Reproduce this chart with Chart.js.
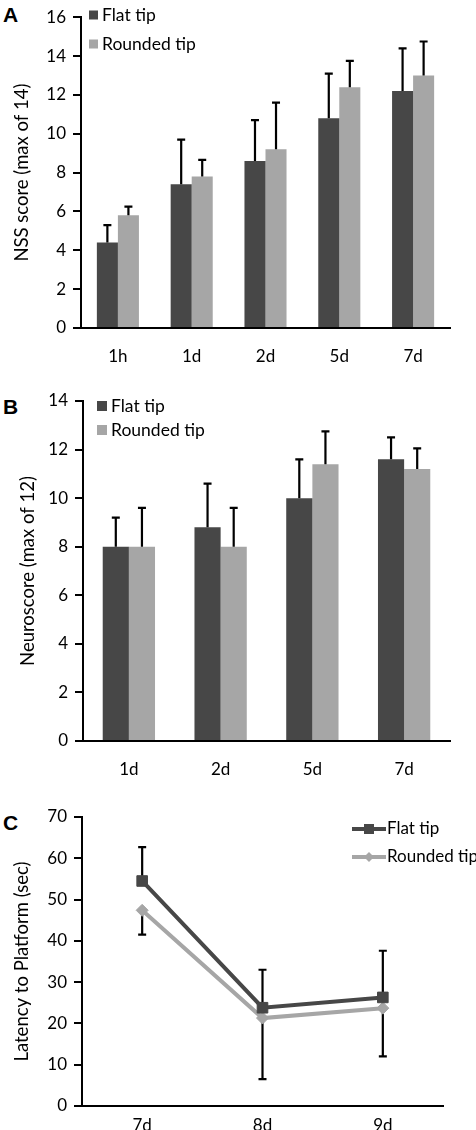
<!DOCTYPE html>
<html lang="en">
<head>
  <meta charset="UTF-8">
  <title>Flat vs rounded tip</title>
  <script src="https://cdn.jsdelivr.net/npm/chart.js"></script>
  <style>
    body { margin: 0; background: #fff; width: 476px; height: 1130px; position: relative; overflow: hidden; }
    canvas { position: absolute; left: 0; }
    .panel { position: absolute; left: 3px; font: bold 21px "Liberation Sans", Arial, sans-serif; color: #000; }
  </style>
</head>
<body>
  <div class="panel" style="top:3px">A</div>
  <div class="panel" style="top:395px">B</div>
  <div class="panel" style="top:811px">C</div>

  <canvas id="chartA" width="476" height="370" style="top:0"></canvas>
  <canvas id="chartB" width="476" height="415" style="top:370px"></canvas>
  <canvas id="chartC" width="476" height="352" style="top:780px"></canvas>

  <script>
    // Panel A - NSS score
    const catsA = ['1h', '1d', '2d', '5d', '7d'];
    const flatA = [4.4, 7.4, 8.6, 10.8, 12.2];
    const flatSdA = [0.9, 2.3, 2.1, 2.3, 2.2];
    const roundA = [5.8, 7.8, 9.2, 12.4, 13.0];
    const roundSdA = [0.45, 0.85, 2.4, 1.35, 1.75];
    const yMaxA = 16, yStepA = 2;

    // Panel B - Neuroscore
    const catsB = ['1d', '2d', '5d', '7d'];
    const flatB = [8.0, 8.8, 10.0, 11.6];
    const flatSdB = [1.2, 1.8, 1.6, 0.9];
    const roundB = [8.0, 8.0, 11.4, 11.2];
    const roundSdB = [1.6, 1.6, 1.35, 0.85];
    const yMaxB = 14, yStepB = 2;

    // Panel C - latency to platform
    const catsC = ['7d', '8d', '9d'];
    const flatC = [54.5, 23.8, 26.3];
    const flatSdC = [8.2, 9.2, 11.3];
    const roundC = [47.4, 21.3, 23.7];
    const roundSdC = [5.9, 14.8, 11.7];
    const yMaxC = 70, yStepC = 10;

    const seriesNames = ['Flat tip', 'Rounded tip'];
    const DARK = '#474747';
    const LIGHT = '#a6a6a6';
    const FONT = 'Lato, "Open Sans", sans-serif';

    // error bars: one-sided (up or down) with a cap
    const errorBars = {
      id: 'errorBars',
      beforeDatasetsDraw(chart, args, opts) { if (opts.behind) drawErrors(chart); },
      afterDatasetsDraw(chart, args, opts) { if (!opts.behind) drawErrors(chart); }
    };
    function drawErrors(chart) {
      const ctx = chart.ctx;
      const y = chart.scales.y;
      ctx.save();
      ctx.strokeStyle = '#000';
      ctx.lineWidth = 2.2;
      chart.data.datasets.forEach((ds, i) => {
        if (!ds.errors) return;
        chart.getDatasetMeta(i).data.forEach((el, j) => {
          const v = ds.data[j];
          const end = ds.errDir === 'down' ? v - ds.errors[j] : v + ds.errors[j];
          const y0 = y.getPixelForValue(v), y1 = y.getPixelForValue(end);
          ctx.beginPath();
          ctx.moveTo(el.x, y0);
          ctx.lineTo(el.x, y1);
          ctx.moveTo(el.x - 4, y1);
          ctx.lineTo(el.x + 4, y1);
          ctx.stroke();
        });
      });
      ctx.restore();
    }

    // hand drawn legend, placed relative to the canvas
    const boxLegend = {
      id: 'boxLegend',
      afterDraw(chart, args, o) {
        const ctx = chart.ctx;
        ctx.save();
        ctx.font = (o.size || 17.5) + 'px ' + FONT;
        ctx.textBaseline = 'middle';
        chart.data.datasets.forEach((ds, i) => {
          const cy = o.y + i * o.gap;
          ctx.fillStyle = ds.backgroundColor;
          if (o.line) {
            ctx.strokeStyle = ds.borderColor;
            ctx.lineWidth = 4;
            ctx.beginPath();
            ctx.moveTo(o.x, cy);
            ctx.lineTo(o.x + 34, cy);
            ctx.stroke();
            const mx = o.x + 17;
            ctx.beginPath();
            if (ds.pointStyle === 'rect') {
              ctx.rect(mx - 5, cy - 5, 10, 10);
            } else {
              ctx.moveTo(mx, cy - 5); ctx.lineTo(mx + 5, cy);
              ctx.lineTo(mx, cy + 5); ctx.lineTo(mx - 5, cy);
              ctx.closePath();
            }
            ctx.fill();
            ctx.fillStyle = '#000';
            ctx.fillText(ds.label, o.x + 35, cy);
          } else {
            ctx.fillRect(o.x, cy - o.box / 2, o.box, o.box);
            ctx.fillStyle = '#000';
            ctx.fillText(ds.label, o.x + o.box + 4, cy);
          }
        });
        ctx.restore();
      }
    };

    function scalesFor(yMax, yStep, yWidth, xHeight, xPad, titleText, titlePad) {
      return {
        x: {
          offset: true,
          grid: { display: false },
          border: { color: '#000', width: 2 },
          ticks: { color: '#000', font: { family: FONT, size: 17 }, padding: xPad },
          afterFit(s) { s.height = xHeight; }
        },
        y: {
          min: 0, max: yMax,
          grid: { drawOnChartArea: false, drawTicks: true, tickLength: 8, color: '#000', lineWidth: 2 },
          border: { color: '#000', width: 2 },
          ticks: { stepSize: yStep, color: '#000', font: { family: FONT, size: 17 }, padding: 7 },
          title: {
            display: true, text: titleText, color: '#000',
            font: { family: FONT, size: 18.5 }, padding: { top: titlePad, bottom: 0 }
          },
          afterFit(s) { s.width = yWidth; }
        }
      };
    }

    function barChart(id, cats, flat, flatSd, round, roundSd, yMax, yStep, geo) {
      return new Chart(document.getElementById(id), {
        type: 'bar',
        data: {
          labels: cats,
          datasets: [
            { label: seriesNames[0], data: flat, errors: flatSd, errDir: 'up', backgroundColor: DARK },
            { label: seriesNames[1], data: round, errors: roundSd, errDir: 'up', backgroundColor: LIGHT }
          ]
        },
        options: {
          responsive: false,
          animation: false,
          categoryPercentage: 0.57,
          barPercentage: 1.0,
          layout: { padding: geo.padding },
          plugins: {
            legend: { display: false },
            tooltip: { enabled: false },
            errorBars: { behind: false },
            boxLegend: geo.legend
          },
          scales: scalesFor(yMax, yStep, geo.yWidth, geo.xHeight, geo.xPad, geo.title, geo.titlePad)
        },
        plugins: [errorBars, boxLegend]
      });
    }

    barChart('chartA', catsA, flatA, flatSdA, roundA, roundSdA, yMaxA, yStepA, {
      padding: { top: 11, right: 26, left: 0, bottom: 0 },
      yWidth: 81, xHeight: 42, xPad: 10,
      title: 'NSS score (max of 14)', titlePad: 11,
      legend: { x: 89, y: 15, gap: 29, box: 9 }
    });

    barChart('chartB', catsB, flatB, flatSdB, roundB, roundSdB, yMaxB, yStepB, {
      padding: { top: 31, right: 26, left: 0, bottom: 0 },
      yWidth: 83, xHeight: 44, xPad: 10,
      title: 'Neuroscore (max of 12)', titlePad: 17,
      legend: { x: 97, y: 36, gap: 24, box: 10 }
    });

    new Chart(document.getElementById('chartC'), {
      type: 'line',
      data: {
        labels: catsC,
        datasets: [
          {
            label: seriesNames[0], data: flatC, errors: flatSdC, errDir: 'up',
            borderColor: DARK, backgroundColor: DARK, borderWidth: 4, tension: 0,
            pointStyle: 'rect', pointRadius: 7.5, pointBackgroundColor: DARK, pointBorderColor: DARK, pointBorderWidth: 1
          },
          {
            label: seriesNames[1], data: roundC, errors: roundSdC, errDir: 'down',
            borderColor: LIGHT, backgroundColor: LIGHT, borderWidth: 4, tension: 0,
            pointStyle: 'rectRot', pointRadius: 6, pointBackgroundColor: LIGHT, pointBorderColor: LIGHT, pointBorderWidth: 1
          }
        ]
      },
      options: {
        responsive: false,
        animation: false,
        layout: { padding: { top: 37, right: 33, left: 0, bottom: 0 } },
        plugins: {
          legend: { display: false },
          tooltip: { enabled: false },
          errorBars: { behind: true },
          boxLegend: { x: 352, y: 49, gap: 28, line: true, size: 17 }
        },
        scales: scalesFor(yMaxC, yStepC, 82, 26, 1, 'Latency to Platform (sec)', 11)
      },
      plugins: [errorBars, boxLegend]
    });
  </script>
</body>
</html>
